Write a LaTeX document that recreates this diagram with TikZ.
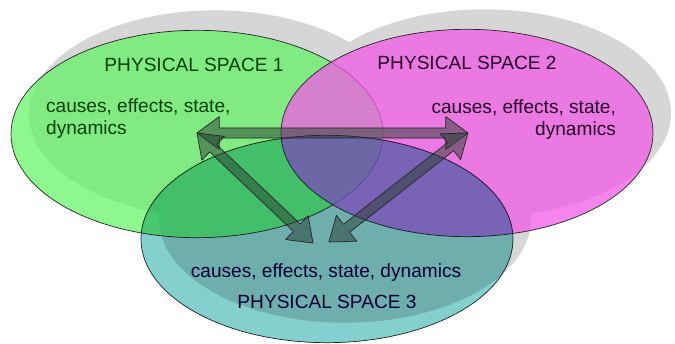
\documentclass[tikz,border=0pt]{standalone}
\usepackage{fontspec}
\setmainfont{Liberation Sans}
\usetikzlibrary{
calc,
positioning,
shapes
}
\tikzset{>=latex}
\definecolor{spacegreen}{RGB}{95,243,95}
\definecolor{spacepink}{RGB}{241,92,231}
\definecolor{spaceteal}{RGB}{132,208,206}
\definecolor{shadegray}{RGB}{214,214,214}
\definecolor{arrowfill}{RGB}{40,62,50}
% double headed fat arrow between two named points
\newcommand{\fatarrow}[2]{%
	\draw[fatarrow] (#1) -- ($(#1)!19pt!(#2)!14pt!90:(#2)$) -- ($(#1)!19pt!(#2)!4.3pt!90:(#2)$)
		-- ($(#2)!19pt!(#1)!4.3pt!-90:(#1)$) -- ($(#2)!19pt!(#1)!14pt!-90:(#1)$) -- (#2)
		-- ($(#2)!19pt!(#1)!14pt!90:(#1)$) -- ($(#2)!19pt!(#1)!4.3pt!90:(#1)$)
		-- ($(#1)!19pt!(#2)!4.3pt!-90:(#2)$) -- ($(#1)!19pt!(#2)!14pt!-90:(#2)$) -- cycle;
}

\begin{document}
\begin{tikzpicture}[x=0.03cm, y=-0.03cm, font=\fontsize{16.3}{19.5}\selectfont,
	spacebox/.style={ellipse, draw=black!85, line width=0.6pt, minimum width=11.16cm, minimum height=6.22cm, inner sep=0pt},
	shadebox/.style={ellipse, fill=shadegray, minimum width=11.16cm, minimum height=6.22cm, inner sep=0pt},
	fatarrow/.style={fill=arrowfill, fill opacity=0.5, draw=black!85, line width=0.6pt, line join=round}]
	\useasboundingbox (0,0) rectangle (675,344);
	
	\node[shadebox] (shade1) at (215,114) {};
	\node[shadebox] (shade2) at (485,113) {};
	\node[shadebox] (shade3) at (345,219) {};
	
	\node[spacebox, fill=spacegreen, fill opacity=0.7] (space1) at (197,134) {};
	\node[spacebox, fill=spacepink, fill opacity=0.75] (space2) at (467,133) {};
	\begin{scope}[blend mode=multiply]
		\node[spacebox, fill=spaceteal] (space3) at (327,239) {};
	\end{scope}
	
	\node[text=green!25!black] (title1) at (194,64.5) {PHYSICAL SPACE 1};
	\node[text=green!25!black, align=left, anchor=base west] (notes1) at (42,135) {causes, effects, state,\\dynamics};
	\node[text=violet!30!black] (title2) at (467,62.5) {PHYSICAL SPACE 2};
	\node[text=violet!30!black, align=right, anchor=base east] (notes2) at (620,136) {causes, effects, state,\\dynamics};
	\node[text=blue!20!black, anchor=base] (notes3) at (326,277) {causes, effects, state, dynamics};
	\node[text=blue!20!black, anchor=base] (title3) at (327,308) {PHYSICAL SPACE 3};
	
	\coordinate (tip1) at (197,133);
	\coordinate (tip2) at (468,133);
	\coordinate (tip3a) at (313,243);
	\coordinate (tip3b) at (329,242);
	\fatarrow{tip1}{tip2}
	\fatarrow{tip1}{tip3a}
	\fatarrow{tip2}{tip3b}
\end{tikzpicture}
\end{document}
